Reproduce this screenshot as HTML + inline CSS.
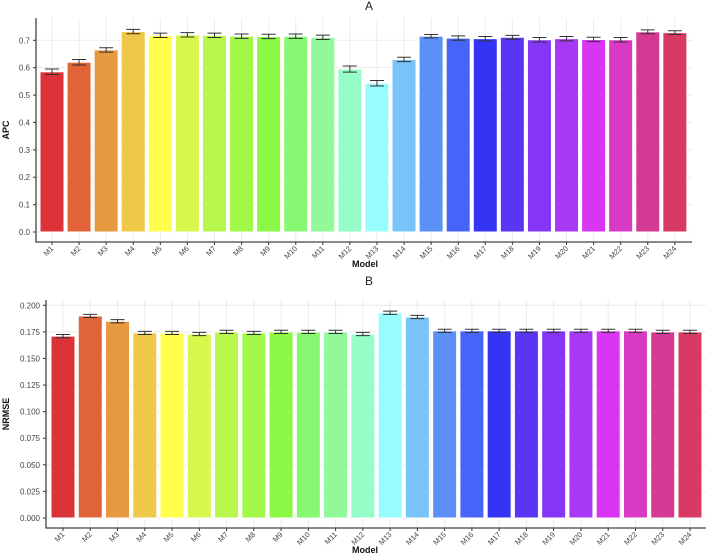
<!DOCTYPE html>
<html><head><meta charset="utf-8"><style>
body{margin:0;background:#fff;}
svg{display:block;font-family:"Liberation Sans",sans-serif;}
</style></head><body>
<svg id="chart" width="708" height="554"></svg>
<script>
const categories=["M1","M2","M3","M4","M5","M6","M7","M8","M9","M10","M11","M12","M13","M14","M15","M16","M17","M18","M19","M20","M21","M22","M23","M24"];
const colors=["#dc3338","#e06438","#e6993e","#f0c848","#ffff4c","#d6f84c","#b8f84c","#a2f848","#8cf846","#86f872","#92f898","#96fcc8","#98fcfc","#78c4f8","#5a90f8","#4664f8","#3434f4","#5a36f4","#8436f4","#a838f4","#d836f4","#d83ac4","#d43a94","#d83a64"];
const apcValues=[0.585,0.620,0.665,0.732,0.718,0.720,0.718,0.715,0.714,0.715,0.711,0.595,0.543,0.630,0.715,0.708,0.706,0.711,0.702,0.706,0.703,0.702,0.731,0.728];
const apcErr=[0.010,0.010,0.008,0.008,0.008,0.008,0.008,0.008,0.008,0.008,0.008,0.011,0.010,0.008,0.006,0.008,0.008,0.007,0.008,0.008,0.008,0.008,0.007,0.007];
const apcTicks=[0,0.1,0.2,0.3,0.4,0.5,0.6,0.7];
const apcTickLabels=["0.0","0.1","0.2","0.3","0.4","0.5","0.6","0.7"];
const nrmseValues=[0.171,0.190,0.185,0.174,0.174,0.173,0.175,0.174,0.175,0.175,0.175,0.173,0.193,0.189,0.176,0.176,0.176,0.176,0.176,0.176,0.176,0.176,0.175,0.175];
const nrmseErr=[0.0015,0.0015,0.0015,0.0015,0.0015,0.0015,0.0015,0.0015,0.0015,0.0015,0.0015,0.0015,0.0015,0.0015,0.0015,0.0015,0.0015,0.0015,0.0015,0.0015,0.0015,0.0015,0.0015,0.0015];
const nrmseTicks=[0,0.025,0.05,0.075,0.1,0.125,0.15,0.175,0.2];
const nrmseTickLabels=["0.000","0.025","0.050","0.075","0.100","0.125","0.150","0.175","0.200"];

const NS="http://www.w3.org/2000/svg";
const svg=document.getElementById('chart');
function mk(tag,attrs,parent){const e=document.createElementNS(NS,tag);for(const k in attrs)e.setAttribute(k,attrs[k]);(parent||svg).appendChild(e);return e;}

function panel(cfg){
  const g=mk('g',{});
  
  
  const y=v=>cfg.y0-(v/cfg.vmax)*(cfg.y0-cfg.yTopV);
  const x=i=>cfg.x0+i*cfg.pitch;
  // grid
  cfg.ticks.forEach((t,i)=>{
    const gl=mk('line',{x1:cfg.axisX,x2:cfg.xEnd,y1:y(t),y2:y(t),stroke:'#ebebeb','stroke-width':1},g);
    
    
    const tl=mk('text',{x:cfg.axisX-6,y:y(t)+3,'text-anchor':'end','font-size':8,fill:'#444'},g);
    tl.textContent=cfg.tickLabels[i];
    
    
    mk('line',{x1:cfg.axisX-3,x2:cfg.axisX,y1:y(t),y2:y(t),stroke:'#333'},g);
  });
  categories.forEach((c,i)=>{
    const cx=x(i)+cfg.bw/2;
    mk('line',{x1:cx,x2:cx,y1:cfg.top,y2:cfg.axisY,stroke:'#ebebeb'},g);
  });
  categories.forEach((c,i)=>{
    const cx=x(i)+cfg.bw/2;
    const b=mk('rect',{x:x(i),y:y(cfg.values[i]),width:cfg.bw,height:y(0)-y(cfg.values[i]),fill:colors[i],stroke:'#fff','stroke-width':1},g);
    
    
    const hi=y(cfg.values[i]+cfg.err[i]),lo=y(cfg.values[i]-cfg.err[i]);
    const eb=mk('path',{d:`M${cx-7},${hi}H${cx+7}M${cx},${hi}V${lo}M${cx-7},${lo}H${cx+7}`,stroke:'#333','stroke-width':1,fill:'none'},g);
    
    
    mk('line',{x1:cx,x2:cx,y1:cfg.axisY,y2:cfg.axisY+3,stroke:'#333'},g);
    const lx=cx+2,ly=cfg.axisY+7;
    const t=mk('text',{x:lx,y:ly,'text-anchor':'end','font-size':7.5,fill:'#444',transform:`rotate(-45 ${lx} ${ly})`},g);
    t.textContent=c;
    
    
  });
  mk('path',{d:`M${cfg.axisX},${cfg.top}V${cfg.axisY}H${cfg.xEnd}`,stroke:'#444','stroke-width':1.3,fill:'none'},g);
  const tt=mk('text',{x:369,y:cfg.titleY,'text-anchor':'middle','font-size':12,fill:'#222'},g);
  tt.textContent=cfg.title;
  
  
  const xt=mk('text',{x:365,y:cfg.axisY+25,'text-anchor':'middle','font-size':9,'font-weight':'bold',fill:'#111'},g);
  xt.textContent='Model';
  
  
  const yx=9,yy=(cfg.top+cfg.axisY)/2;
  const yt=mk('text',{x:yx,y:yy,'text-anchor':'middle','font-size':9,'font-weight':'bold',fill:'#111',transform:`rotate(-90 ${yx} ${yy})`},g);
  yt.textContent=cfg.ylabel;
  
  
}
panel({name:'panel-a-apc',values:apcValues,err:apcErr,ticks:apcTicks,tickLabels:apcTickLabels,vmax:0.7,y0:232,yTopV:40.3,x0:40,pitch:27.08,bw:24,axisX:36,axisY:242,xEnd:692,top:18,title:'A',titleY:10,ylabel:'APC'});
panel({name:'panel-b-nrmse',values:nrmseValues,err:nrmseErr,ticks:nrmseTicks,tickLabels:nrmseTickLabels,vmax:0.2,y0:518,yTopV:305.3,x0:51,pitch:27.26,bw:24,axisX:46,axisY:528,xEnd:706,top:300,title:'B',titleY:285,ylabel:'NRMSE'});
</script>
</body></html>
